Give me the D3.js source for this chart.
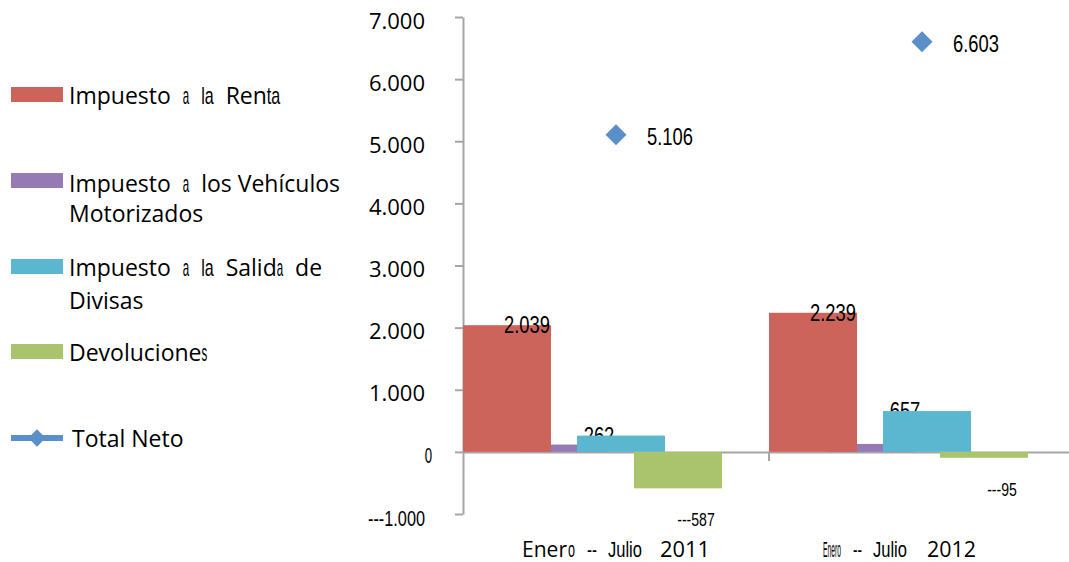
<!DOCTYPE html>
<html>
<head>
<meta charset="utf-8">
<script src="https://cdn.jsdelivr.net/npm/d3@7"></script>
<style>
  html, body { margin: 0; padding: 0; background: #ffffff; }
  svg { display: block; }
  text { fill: #000000; white-space: pre; }
  .n { font-family: "Open Sans", "Noto Sans", sans-serif; }
  .c { font-family: "Liberation Sans", Arial, sans-serif; }
</style>
</head>
<body>
<svg id="chart" width="1069" height="562"></svg>
<script>
// ---- data (millones de USD) ----
const categories = ["Enero -- Julio 2011", "Enero -- Julio 2012"];
const seriesNames = [
  "Impuesto a la Renta",
  "Impuesto a los Vehículos Motorizados",
  "Impuesto a la Salida de Divisas",
  "Devoluciones"
];
const totalName = "Total Neto";
const renta = [2039, 2239];
const vehiculos = [118, 128];
const salidaDivisas = [262, 657];
const devoluciones = [-587, -95];
const totalNeto = [5106, 6603];
const yTicks = [-1000, 0, 1000, 2000, 3000, 4000, 5000, 6000, 7000];

// ---- setup ----
const svg = d3.select("#chart");
const colors = ["#CC645C", "#957AB4", "#5BB7D0", "#AAC46D"];
const totalColor = "#5A8FC9";
const axisColor = "#A6A6A6";

const locale = d3.formatLocale({ decimal: ",", thousands: ".", grouping: [3], currency: ["", ""], minus: "---" });
const fmt = locale.format(",d");

const seriesKeys = ["renta", "vehiculos", "salida", "devoluciones"];
const seriesValues = { renta, vehiculos, salida: salidaDivisas, devoluciones };

const x = d3.scaleBand().domain(categories).range([463, 1075]).padding(0);
const y = d3.scaleLinear().domain([-1000, 7000]).range([514, 17]);
const inner = d3.scalePoint().domain(seriesKeys).range([0, 171]);
const barW = 88;

// horizontally squeeze a text element about its anchor x
function squeeze(node, factor) {
  const ax = +node.getAttribute("x") || 0;
  node.setAttribute("transform", `translate(${ax},0) scale(${factor},1) translate(${-ax},0)`);
}

// ---- axes ----
const gx = svg.append("g").attr("transform", `translate(0,${y(0)})`)
  .call(d3.axisBottom(x).tickSize(0).tickFormat("").tickSizeOuter(0));
gx.select(".domain").attr("stroke", axisColor).attr("stroke-width", 2);
gx.selectAll(".tick").remove();
svg.append("g").selectAll("line")
  .data(categories.slice(1))
  .join("line")
  .attr("x1", d => x(d)).attr("x2", d => x(d))
  .attr("y1", y(0)).attr("y2", y(0) + 9)
  .attr("stroke", axisColor).attr("stroke-width", 2);

const gy = svg.append("g").attr("transform", "translate(463,0)")
  .call(d3.axisLeft(y).tickValues(yTicks).tickFormat(fmt).tickSize(8).tickPadding(30).tickSizeOuter(0));
gy.select(".domain").attr("stroke", axisColor).attr("stroke-width", 2);
gy.selectAll(".tick line").attr("stroke", axisColor).attr("stroke-width", 2);
gy.selectAll(".tick text")
  .attr("class", "n")
  .attr("font-size", 22)
  .attr("dy", "0.5em")
  .attr("fill", "#000");
gy.selectAll(".tick text").filter(d => d === 0)
  .attr("class", "c").attr("x", -31).attr("text-anchor", "end")
  .each(function () { squeeze(this, 0.6); });
gy.selectAll(".tick text").filter(d => d < 0)
  .attr("class", "c")
  .each(function () { squeeze(this, 57 / this.getComputedTextLength()); });

// ---- bars ----
const barLayer = svg.append("g");
function drawSeries(key, idx) {
  barLayer.append("g").selectAll("rect")
    .data(seriesValues[key].map((v, i) => ({ v, c: categories[i] })))
    .join("rect")
    .attr("x", d => x(d.c) + inner(key))
    .attr("width", barW)
    .attr("y", d => y(Math.max(0, d.v)))
    .attr("height", d => Math.abs(y(d.v) - y(0)))
    .attr("fill", colors[idx]);
}
function drawLabels(key, dxLabel, dyLabel, size, factor) {
  barLayer.append("g").selectAll("text")
    .data(seriesValues[key].map((v, i) => ({ v, c: categories[i] })))
    .join("text")
    .attr("class", "c")
    .attr("font-size", size)
    .attr("text-anchor", "middle")
    .attr("x", d => x(d.c) + inner(key) + dxLabel)
    .attr("y", d => y(d.v) + dyLabel)
    .attr("dy", "0.36em")
    .text(d => fmt(d.v))
    .each(function () { squeeze(this, factor); });
}
drawSeries("vehiculos", 1);
drawSeries("renta", 0);
drawLabels("renta", 64, 0, 23, 0.8);
drawLabels("salida", 22, 0, 23, 0.8);
drawSeries("salida", 2);
drawSeries("devoluciones", 3);
drawLabels("devoluciones", 62, 31, 19, 0.74);

// ---- total neto markers ----
const diamond = d3.symbol(d3.symbolSquare, 220);
svg.append("g").selectAll("path")
  .data(totalNeto.map((v, i) => ({ v, c: categories[i] })))
  .join("path")
  .attr("d", diamond)
  .attr("transform", d => `translate(${x(d.c) + x.bandwidth() / 2},${y(d.v)}) rotate(45)`)
  .attr("fill", totalColor);
svg.append("g").selectAll("text")
  .data(totalNeto.map((v, i) => ({ v, c: categories[i] })))
  .join("text")
  .attr("class", "c")
  .attr("font-size", 23)
  .attr("x", d => x(d.c) + x.bandwidth() / 2 + 31)
  .attr("y", d => y(d.v) + 2)
  .attr("dy", "0.36em")
  .text(d => fmt(d.v))
  .each(function () { squeeze(this, 0.8); });

// ---- category labels (runs of [chars, style, width, gap]) ----
const catRuns = [
  { start: 59, runs: [[4, "n", 45, 0], [1, "c", 7, 1], [2, "c", 10, 12], [5, "c", 34, 11], [4, "n", 50, 18]] },
  { start: 54, runs: [[5, "c", 18, 0], [2, "c", 9, 12], [5, "c", 34, 11], [4, "n", 49, 20]] }
];
categories.forEach((cat, i) => {
  const chars = cat.replace(/\s+/g, "");
  let pos = 0;
  let cx = x(cat) + catRuns[i].start;
  catRuns[i].runs.forEach(([n, style, w, gap]) => {
    cx += gap;
    const t = svg.append("text")
      .attr("class", style)
      .attr("font-size", 22)
      .attr("x", cx)
      .attr("y", 557)
      .text(chars.slice(pos, pos + n));
    pos += n;
    const node = t.node();
    squeeze(node, w / node.getComputedTextLength());
    cx += w;
  });
});

// ---- legend ----
const legendNames = seriesNames.concat([totalName]);
// run styles: n = regular, c = condensed, s = narrow letter, w = wide space
const runStyle = { n: ["n", 1], c: ["c", 0.7], s: ["c", 0.5], w: ["n", 2] };
const legendLines = [
  { y: [96], runs: [[[8, "n"], [1, "w"], [1, "s"], [1, "w"], [2, "c"], [1, "w"], [3, "n"], [2, "c"]]] },
  { y: [183.5, 213.5], runs: [[[8, "n"], [1, "w"], [1, "s"], [1, "w"], [13, "n"]], [[11, "n"]]] },
  { y: [268, 300.5], runs: [[[8, "n"], [1, "w"], [1, "s"], [1, "w"], [2, "c"], [1, "w"], [5, "n"], [1, "s"], [1, "w"], [2, "n"]], [[7, "n"]]] },
  { y: [353], runs: [[[11, "n"], [1, "s"]]] },
  { y: [439], runs: [[[10, "n"]]] }
];
const swatchY = [94.5, 180.5, 266.5, 351.5];
const legend = svg.append("g");
legend.selectAll("rect")
  .data(seriesNames)
  .join("rect")
  .attr("x", 11).attr("width", 52).attr("height", 15)
  .attr("y", (d, i) => swatchY[i] - 7.5)
  .attr("fill", (d, i) => colors[i]);
legend.append("line")
  .attr("x1", 11).attr("x2", 63).attr("y1", 438).attr("y2", 438)
  .attr("stroke", totalColor).attr("stroke-width", 6);
legend.append("path")
  .attr("d", d3.symbol(d3.symbolSquare, 150))
  .attr("transform", "translate(37,438) rotate(45)")
  .attr("fill", totalColor);

legendNames.forEach((name, i) => {
  const spec = legendLines[i];
  let pos = 0;
  spec.runs.forEach((line, li) => {
    let cx = i === 4 ? 72 : 69;
    line.forEach(([n, style]) => {
      const [cls, factor] = runStyle[style];
      const t = legend.append("text")
        .attr("class", cls)
        .attr("font-size", 23)
        .attr("x", cx)
        .attr("y", spec.y[li])
        .attr("dy", "0.36em")
        .text(name.slice(pos, pos + n));
      pos += n;
      const node = t.node();
      const w = node.getComputedTextLength();
      if (factor !== 1) squeeze(node, factor);
      cx += w * factor;
    });
    pos += 1; // line break replaces a space
  });
});
</script>
</body>
</html>
